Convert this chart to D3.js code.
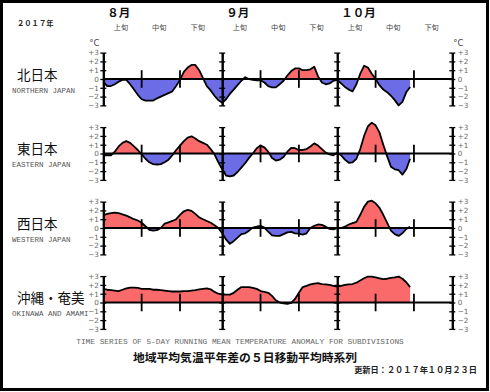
<!DOCTYPE html>
<html><head><meta charset="utf-8">
<script src="https://cdn.jsdelivr.net/npm/d3@7"></script>
<style>
html,body{margin:0;padding:0;background:#fff;}
svg{display:block;}
</style></head>
<body>
<script>
// ---- data (daily 5-day running mean anomaly, Aug 1 = day 0) ----
const regionsJa = ["北日本", "東日本", "西日本", "沖縄・奄美"];
const regionsEn = ["NORTHERN JAPAN", "EASTERN JAPAN", "WESTERN JAPAN", "OKINAWA AND AMAMI"];
const months = ["８月", "９月", "１０月"];
const monthStartDays = [0, 31, 61];
const dekadLabels = ["上旬", "中旬", "下旬"];
const dekadTickDays = [10, 20, 41, 51, 71, 81];
const yTicks = [-3, -2, -1, 0, 1, 2, 3];
const lastDay = 91;

const north = [
 -0.3,-0.8,-0.8,-0.6,-0.3,-0.1,-0.1,-0.6,-1.2,-1.8,
 -2.3,-2.45,-2.45,-2.45,-2.2,-2.0,-1.8,-1.6,-1.4,-0.8,
 -0.1,0.8,1.3,1.6,1.6,1.0,0.1,-0.8,-1.3,-1.9,
 -2.4,-2.7,-2.3,-1.7,-1.2,-0.7,-0.2,0.2,0.0,-0.1,
 -0.15,-0.15,-0.4,-0.8,-0.95,-0.95,-0.6,-0.2,0.4,0.9,
 1.2,1.2,1.0,1.0,1.1,1.4,0.3,-0.4,-0.6,-0.5,
 -0.2,-0.1,-0.5,-0.9,-1.2,-1.4,-0.6,0.6,1.5,1.3,
 0.6,0.0,-0.7,-1.2,-1.5,-1.9,-2.4,-3.0,-2.6,-1.5,
 -0.9];
const east = [
 -0.2,-0.2,-0.2,0.2,0.8,1.2,1.4,1.2,0.8,0.4,
 -0.1,-0.6,-1.0,-1.2,-1.25,-1.2,-1.0,-0.7,-0.2,0.4,
 0.9,1.4,1.8,1.95,1.7,1.4,1.2,1.0,0.5,-0.1,
 -1.0,-1.8,-2.5,-2.6,-2.5,-2.1,-1.6,-1.1,-0.5,0.0,
 0.6,0.9,0.7,0.2,-0.5,-0.8,-0.7,-0.4,0.2,0.65,
 0.6,0.4,0.4,0.5,0.8,1.15,0.9,0.5,0.1,-0.1,
 -0.2,0.1,-0.2,-0.7,-1.05,-1.0,-0.6,0.5,2.0,3.1,
 3.5,3.2,2.4,1.0,-0.3,-1.5,-1.8,-1.9,-2.4,-1.8,
 -0.6];
const west = [
 1.45,1.6,1.7,1.75,1.7,1.55,1.4,1.2,1.0,0.85,
 0.6,0.2,-0.2,-0.3,-0.25,0.0,0.5,0.65,0.8,1.0,
 1.5,1.9,2.05,1.95,1.6,1.2,1.0,0.8,0.6,0.3,
 0.0,-0.6,-1.3,-1.8,-1.5,-1.1,-0.7,-0.6,-0.3,0.05,
 0.15,0.25,0.05,-0.4,-0.85,-0.9,-0.9,-0.7,-0.5,-0.45,
 -0.6,-0.65,-0.75,-0.6,0.0,0.25,0.4,0.35,0.15,-0.1,
 -0.15,0.0,0.0,0.15,0.4,0.55,0.7,1.5,2.4,3.0,
 3.1,2.8,2.3,1.5,0.6,-0.3,-0.7,-0.9,-0.6,-0.1,
 0.15];
const okinawa = [
 1.55,1.45,1.4,1.35,1.3,1.45,1.6,1.7,1.7,1.65,
 1.55,1.55,1.55,1.45,1.45,1.4,1.35,1.3,1.25,1.25,
 1.25,1.3,1.3,1.35,1.4,1.5,1.55,1.6,1.5,1.2,
 1.0,0.9,0.9,0.9,1.1,1.45,1.75,1.75,1.75,1.65,
 1.55,1.3,1.2,1.1,0.75,0.25,0.0,-0.1,-0.15,-0.05,
 0.4,1.1,1.75,1.9,2.05,2.15,2.2,2.1,2.05,2.0,
 1.9,1.8,1.9,2.0,2.05,2.1,2.25,2.5,2.75,2.95,
 2.95,2.85,2.75,2.65,2.7,2.8,2.85,2.95,2.7,2.3,
 1.75];
const series = [north, east, west, okinawa];

// ---- drawing ----
const W = 490, H = 392;
const svg = d3.select("body").append("svg").attr("width", W).attr("height", H);
const CJK = "'Noto Sans CJK JP', sans-serif";
const MONO = "'Liberation Mono', monospace";
const SANS = "'DejaVu Sans', sans-serif";
const RED = "#fb6a6a", BLUE = "#6c6ce6";

svg.append("rect").attr("x", 1.5).attr("y", 1.5).attr("width", 486).attr("height", 388)
  .attr("fill", "#fff").attr("stroke", "#000").attr("stroke-width", 3);

const x = d3.scaleLinear().domain([0, lastDay]).range([103.3, 452.3]);

// header
svg.append("text").attr("x", 17).attr("y", 26).text("２０１７年")
  .attr("font-family", CJK).attr("font-size", 7.3).attr("font-weight", "bold").attr("fill", "#222");
months.forEach((m, i) => {
  svg.append("text").attr("x", x(monthStartDays[i]) + 4).attr("y", 16.5).text(m)
    .attr("font-family", CJK).attr("font-size", 11.5).attr("font-weight", "bold").attr("fill", "#111");
  dekadLabels.forEach((dl, j) => {
    svg.append("text").attr("x", x(monthStartDays[i] + j * 10 + 4.6)).attr("y", 29.5).text(dl)
      .attr("text-anchor", "middle").attr("font-family", CJK).attr("font-size", 7.2).attr("fill", "#444");
  });
});

const fmt = v => v > 0 ? "+" + v : (v < 0 ? "\u2212" + Math.abs(v) : "0");

series.forEach((data, i) => {
  const zero = 79 + 74.5 * i;
  const y = d3.scaleLinear().domain([-3, 3]).range([zero + 26.4, zero - 26.4]);
  const g = svg.append("g");
  const pts = data.map((v, d) => [d, v]);

  const clipTop = "ct" + i, clipBot = "cb" + i;
  const defs = svg.append("defs");
  defs.append("clipPath").attr("id", clipTop).append("rect")
    .attr("x", 0).attr("y", 0).attr("width", W).attr("height", y(0));
  defs.append("clipPath").attr("id", clipBot).append("rect")
    .attr("x", 0).attr("y", y(0)).attr("width", W).attr("height", H);

  const area = d3.area().x(p => x(p[0])).y0(y(0)).y1(p => y(p[1]));
  g.append("path").datum(pts).attr("d", area).attr("fill", RED).attr("clip-path", `url(#${clipTop})`);
  g.append("path").datum(pts).attr("d", area).attr("fill", BLUE).attr("clip-path", `url(#${clipBot})`);

  // zero line
  g.append("line").attr("x1", x(0)).attr("x2", x(lastDay)).attr("y1", y(0)).attr("y2", y(0))
    .attr("stroke", "#000").attr("stroke-width", 1.8);

  // dekad ticks
  dekadTickDays.forEach(d => {
    g.append("line").attr("x1", x(d)).attr("x2", x(d)).attr("y1", y(1)).attr("y2", y(-1))
      .attr("stroke", "#000").attr("stroke-width", 1.8);
  });

  // vertical axes
  [0, 31, 61, lastDay].forEach(d => {
    const left = d3.axisLeft(y).tickValues(yTicks).tickSize(3).tickSizeOuter(0)
      .tickPadding(1.5).tickFormat(d === 0 ? fmt : "");
    const right = d3.axisRight(y).tickValues(yTicks).tickSize(3).tickSizeOuter(0)
      .tickPadding(2.5).tickFormat(d === lastDay ? fmt : "");
    [left, right].forEach(ax => {
      const a = g.append("g").attr("transform", `translate(${x(d)},0)`).call(ax);
      a.select(".domain").attr("stroke", "#000").attr("stroke-width", 2);
      a.selectAll(".tick line").attr("stroke", "#000").attr("stroke-width", 1.3);
      a.selectAll(".tick text").attr("fill", "#666").attr("font-family", SANS).attr("font-size", 7.2);
    });
  });

  // curve
  g.append("path").datum(pts)
    .attr("d", d3.line().x(p => x(p[0])).y(p => y(p[1])))
    .attr("fill", "none").attr("stroke", "#000").attr("stroke-width", 1.8).attr("stroke-linejoin", "round");

  // titles
  svg.append("text").attr("x", 17).attr("y", zero + 0.5).text(regionsJa[i])
    .attr("font-family", CJK).attr("font-size", 13.5).attr("fill", "#111");
  svg.append("text").attr("x", 12).attr("y", zero + 13.5).text(regionsEn[i])
    .attr("font-family", MONO).attr("font-size", 7.5).attr("fill", "#555");

  if (i === 0) {
    [x(0) - 14, x(lastDay) + 1].forEach(cx => {
      svg.append("text").attr("x", cx).attr("y", zero - 33).text("°C")
        .attr("font-family", SANS).attr("font-size", 8.5).attr("fill", "#444");
    });
  }
});

// footer
svg.append("text").attr("x", 240).attr("y", 344).attr("text-anchor", "middle")
  .text("TIME SERIES OF 5-DAY RUNNING MEAN TEMPERATURE ANOMALY FOR SUBDIVISIONS")
  .attr("font-family", MONO).attr("font-size", 7.8).attr("fill", "#666");
svg.append("text").attr("x", 245).attr("y", 362).attr("text-anchor", "middle")
  .text("地域平均気温平年差の５日移動平均時系列")
  .attr("font-family", CJK).attr("font-size", 11.8).attr("font-weight", "bold").attr("fill", "#111");
svg.append("text").attr("x", 477).attr("y", 373).attr("text-anchor", "end")
  .text("更新日：２０１７年１０月２３日")
  .attr("font-family", CJK).attr("font-size", 8.2).attr("font-weight", "bold").attr("fill", "#222");
</script>
</body></html>
